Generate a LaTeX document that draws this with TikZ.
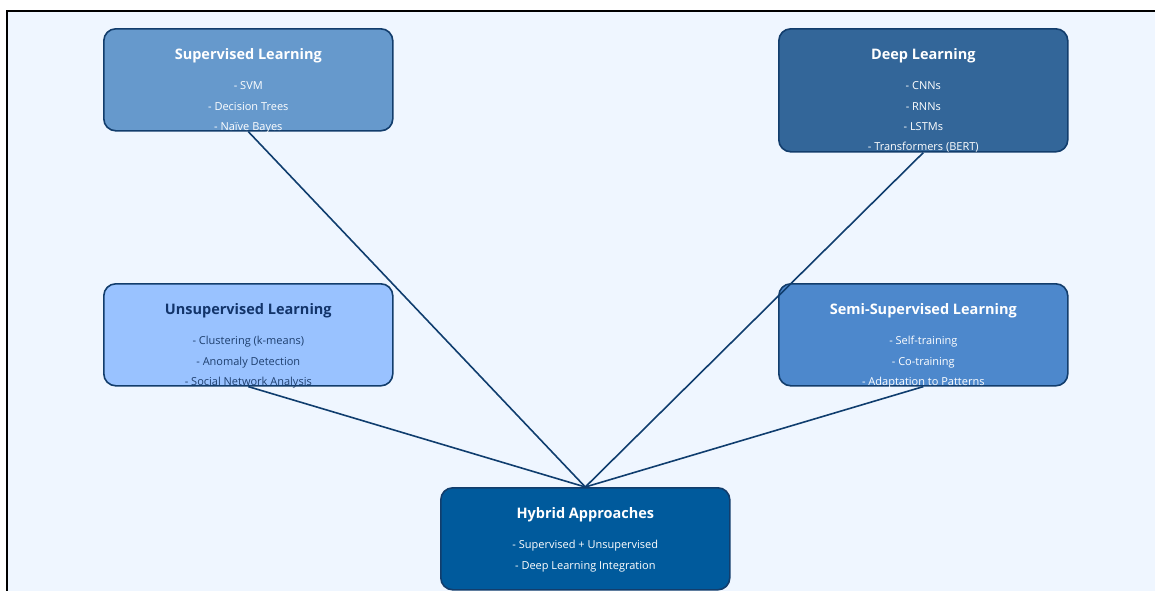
\documentclass[tikz,border=0pt]{standalone}
\usepackage{fontspec}
\setmainfont{Open Sans}
\definecolor{pagebg}{HTML}{EFF6FF}
\definecolor{boxedge}{HTML}{123D6C}
\definecolor{linkblue}{HTML}{0F3D6E}
\definecolor{supfill}{HTML}{6699CC}
\definecolor{deepfill}{HTML}{336699}
\definecolor{unsfill}{HTML}{99C2FF}
\definecolor{semifill}{HTML}{4D88CC}
\definecolor{hybfill}{HTML}{005A9C}
\definecolor{darktitle}{HTML}{12346A}
\definecolor{darkitem}{HTML}{1E3F6E}
\begin{document}
\begin{tikzpicture}[x=1pt,y=-1pt,
  box/.style={draw=boxedge, line width=1.6pt, rounded corners=12pt,
    minimum width=289pt, minimum height=102pt, inner sep=0pt, anchor=north west},
  title/.style={font=\bfseries\fontsize{14.5}{17}\selectfont, anchor=mid, inner sep=0pt, text=white},
  item/.style={font=\fontsize{11}{13}\selectfont, anchor=mid, inner sep=0pt, text=white},
  link/.style={draw=linkblue, line width=1.6pt}]
\useasboundingbox (0,0) rectangle (1155,590);
% page panel with its frame on the left and top
\fill[pagebg] (7,11) rectangle (1160,595);
\draw[black, line width=2pt] (7,595) -- (7,11) -- (1160,11);

% category boxes
\node[box, fill=supfill] (sup) at (103,28) {};
\node[box, fill=deepfill, minimum height=123pt] (deep) at (778,28) {};
\node[box, fill=unsfill] (uns) at (103,283) {};
\node[box, fill=semifill] (semi) at (778,283) {};
\node[box, fill=hybfill] (hyb) at (440,487) {};

% titles
\node[title] (sup-t) at ([yshift=-28.5pt]sup.north) {Supervised Learning};
\node[title] (deep-t) at ([yshift=-28.5pt]deep.north) {Deep Learning};
\node[title, text=darktitle] (uns-t) at ([yshift=-28.5pt]uns.north) {Unsupervised Learning};
\node[title] (semi-t) at ([yshift=-28.5pt]semi.north) {Semi-Supervised Learning};
\node[title] (hyb-t) at ([yshift=-28.5pt]hyb.north) {Hybrid Approaches};

% item lists
\foreach \t [count=\i] in {- SVM, - Decision Trees, - Naïve Bayes}
  \node[item] (sup-\i) at ([yshift={-(38.9+20.3*\i)*1pt}]sup.north) {\t};
\foreach \t [count=\i] in {- CNNs, - RNNs, - LSTMs, - Transformers (BERT)}
  \node[item] (deep-\i) at ([yshift={-(38.9+20.3*\i)*1pt}]deep.north) {\t};
\foreach \t [count=\i] in {- Clustering (k-means), - Anomaly Detection, - Social Network Analysis}
  \node[item, text=darkitem] (uns-\i) at ([yshift={-(38.9+20.3*\i)*1pt}]uns.north) {\t};
\foreach \t [count=\i] in {- Self-training, - Co-training, - Adaptation to Patterns}
  \node[item] (semi-\i) at ([yshift={-(38.9+20.3*\i)*1pt}]semi.north) {\t};
\foreach \t [count=\i] in {- Supervised + Unsupervised, - Deep Learning Integration}
  \node[item] (hyb-\i) at ([yshift={-(38.9+20.3*\i)*1pt}]hyb.north) {\t};

% connectors into the hybrid box
\draw[link] (sup.south) -- (hyb.north);
\draw[link] (deep.south) -- (hyb.north);
\draw[link] (uns.south) -- (hyb.north);
\draw[link] (semi.south) -- (hyb.north);
\end{tikzpicture}
\end{document}
